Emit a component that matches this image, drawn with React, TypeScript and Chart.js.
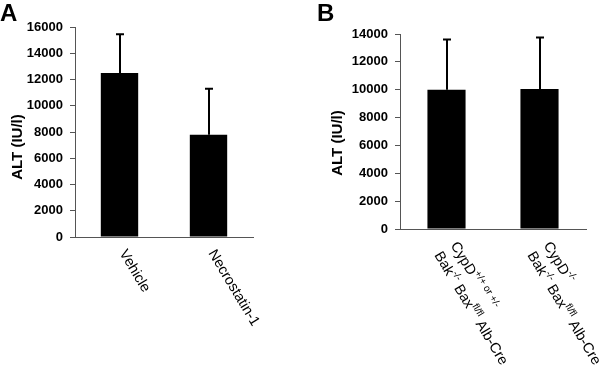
import React, { useEffect, useRef } from 'react';
import { Chart, registerables } from 'chart.js';

Chart.register(...registerables);

type Seg = { t: string; sup?: boolean };

// ---- Data ----
const categoriesA = ['Vehicle', 'Necrostatin-1'];
const meansA = [12500, 7800];
const errorsA = [2950, 3500];
const yMaxA = 16000;
const yStepA = 2000;

const categoriesB = ['CypD+/+ or +/- Bak-/- Baxfl/fl Alb-Cre', 'CypD-/- Bak-/- Baxfl/fl Alb-Cre'];
const meansB = [10000, 10050];
const errorsB = [3600, 3700];
const yMaxB = 14000;
const yStepB = 2000;

const labelLinesA: Seg[][][] = [
  [[{ t: 'Vehicle' }]],
  [[{ t: 'Necrostatin-1' }]],
];
const labelLinesB: Seg[][][] = [
  [
    [{ t: 'CypD' }, { t: '+/+ or +/-', sup: true }],
    [{ t: 'Bak' }, { t: '-/-', sup: true }, { t: ' Bax' }, { t: 'fl/fl', sup: true }, { t: ' Alb-Cre' }],
  ],
  [
    [{ t: 'CypD' }, { t: '-/-', sup: true }],
    [{ t: 'Bak' }, { t: '-/-', sup: true }, { t: ' Bax' }, { t: 'fl/fl', sup: true }, { t: ' Alb-Cre' }],
  ],
];

const yTitle = 'ALT (IU/l)';
const FONT = "'Liberation Sans', Arial, sans-serif";
const H = 369;

type PanelCfg = {
  width: number;
  categories: string[];
  means: number[];
  errors: number[];
  yMax: number;
  yStep: number;
  labels: Seg[][][];
  areaLeft: number;
  areaRight: number;
  areaTop: number;
  areaBottom: number;
  barPct: number;
  titleX: number;
  titleY: number;
  letter: string;
  letterX: number;
  labelDX: number;
  labelY: number;
  lineH: number;
};

function drawSegLine(ctx: CanvasRenderingContext2D, segs: Seg[], x: number, y: number) {
  let cx = x;
  for (const s of segs) {
    ctx.font = s.sup ? `10px ${FONT}` : `14.5px ${FONT}`;
    ctx.fillText(s.t, cx, s.sup ? y - 5 : y);
    cx += ctx.measureText(s.t).width;
  }
}

function makeChart(canvas: HTMLCanvasElement, p: PanelCfg) {
  const ANG = (59 * Math.PI) / 180;
  const plugin = {
    id: 'extras',
    afterDatasetsDraw(chart: any) {
      const ctx: CanvasRenderingContext2D = chart.ctx;
      const meta = chart.getDatasetMeta(0);
      const ys = chart.scales.y;
      ctx.save();
      ctx.strokeStyle = '#000';
      ctx.lineWidth = 2;
      meta.data.forEach((bar: any, i: number) => {
        const x = Math.round(bar.x);
        const top = ys.getPixelForValue(p.means[i] + p.errors[i]);
        ctx.beginPath();
        ctx.moveTo(x, bar.y);
        ctx.lineTo(x, top);
        ctx.moveTo(x - 4, top);
        ctx.lineTo(x + 4, top);
        ctx.stroke();
      });
      ctx.restore();
    },
    afterDraw(chart: any) {
      const ctx: CanvasRenderingContext2D = chart.ctx;
      const xs = chart.scales.x;
      ctx.save();
      ctx.fillStyle = '#000';
      // rotated category labels
      p.labels.forEach((lines, i) => {
        const tx = xs.getPixelForTick(i) + p.labelDX;
        ctx.save();
        ctx.translate(tx, p.labelY);
        ctx.rotate(ANG);
        ctx.textAlign = 'left';
        ctx.textBaseline = 'middle';
        const n = lines.length;
        lines.forEach((segs, j) => {
          drawSegLine(ctx, segs, 0, (j - (n - 1) / 2) * p.lineH);
        });
        ctx.restore();
      });
      // axis title
      ctx.save();
      ctx.translate(p.titleX, p.titleY);
      ctx.rotate(-Math.PI / 2);
      ctx.textAlign = 'center';
      ctx.textBaseline = 'middle';
      ctx.font = `bold 15px ${FONT}`;
      ctx.fillText(yTitle, 0, 0);
      ctx.restore();
      // panel letter
      ctx.font = `bold 24px ${FONT}`;
      ctx.textAlign = 'left';
      ctx.textBaseline = 'alphabetic';
      ctx.fillText(p.letter, p.letterX, 21);
      ctx.restore();
    },
  };

  return new Chart(canvas, {
    type: 'bar',
    data: {
      labels: p.categories,
      datasets: [
        {
          data: p.means,
          backgroundColor: '#000',
          borderWidth: 0,
          categoryPercentage: 1,
          barPercentage: p.barPct,
        },
      ],
    },
    options: {
      responsive: false,
      animation: false,
      devicePixelRatio: 1,
      layout: { padding: { left: 0, top: p.areaTop, right: p.width - p.areaRight, bottom: 0 } },
      plugins: { legend: { display: false }, tooltip: { enabled: false } },
      scales: {
        x: {
          ticks: { display: false },
          grid: { display: false },
          border: { display: true, color: '#555', width: 1 },
          afterFit: (s: any) => {
            s.height = H - p.areaBottom;
          },
        },
        y: {
          min: 0,
          max: p.yMax,
          ticks: {
            stepSize: p.yStep,
            color: '#000',
            font: { family: FONT, size: 13, weight: 'bold' },
            padding: 7,
            callback: (v: any) => String(v),
          },
          grid: {
            display: true,
            drawOnChartArea: false,
            drawTicks: true,
            tickLength: 5,
            color: '#555',
          },
          border: { display: true, color: '#555', width: 1 },
          afterFit: (s: any) => {
            s.width = p.areaLeft;
          },
        },
      },
    } as any,
    plugins: [plugin],
  });
}

export default function App() {
  const refA = useRef<HTMLCanvasElement>(null);
  const refB = useRef<HTMLCanvasElement>(null);

  useEffect(() => {
    const a = makeChart(refA.current!, {
      width: 300,
      categories: categoriesA,
      means: meansA,
      errors: errorsA,
      yMax: yMaxA,
      yStep: yStepA,
      labels: labelLinesA,
      areaLeft: 75,
      areaRight: 253,
      areaTop: 27,
      areaBottom: 237,
      barPct: 0.42,
      titleX: 18,
      titleY: 147,
      letter: 'A',
      letterX: 0,
      labelDX: 3,
      labelY: 251,
      lineH: 17,
    });
    const b = makeChart(refB.current!, {
      width: 309,
      categories: categoriesB,
      means: meansB,
      errors: errorsB,
      yMax: yMaxB,
      yStep: yStepB,
      labels: labelLinesB,
      areaLeft: 100,
      areaRight: 286,
      areaTop: 34,
      areaBottom: 229,
      barPct: 0.41,
      titleX: 38,
      titleY: 143,
      letter: 'B',
      letterX: 17,
      labelDX: -1,
      labelY: 248,
      lineH: 19,
    });
    return () => {
      a.destroy();
      b.destroy();
    };
  }, []);

  return (
    <div style={{ position: 'fixed', left: 0, top: 0, width: 609, height: H, background: '#fff' }}>
      <canvas ref={refA} width={300} height={H} style={{ position: 'absolute', left: 0, top: 0 }} />
      <canvas ref={refB} width={309} height={H} style={{ position: 'absolute', left: 300, top: 0 }} />
    </div>
  );
}
